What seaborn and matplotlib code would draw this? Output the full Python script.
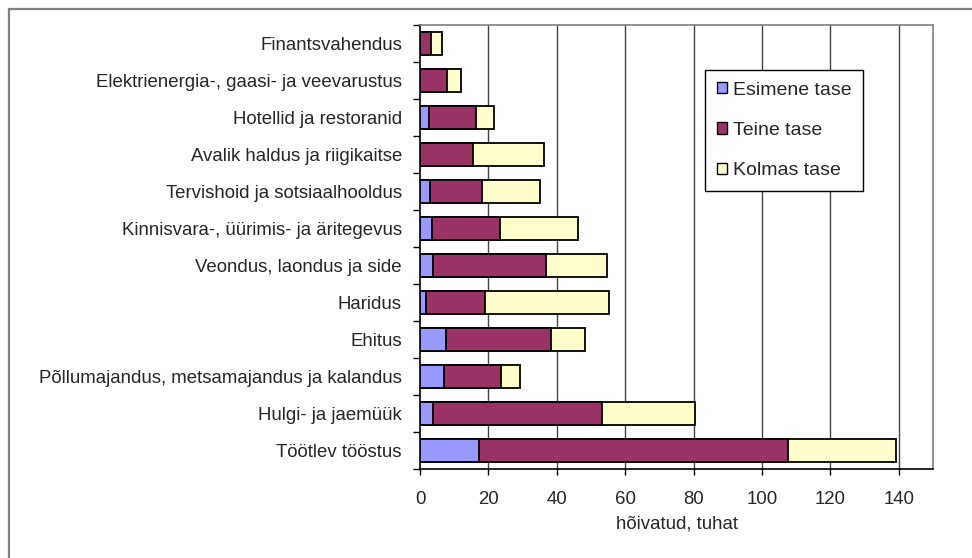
import matplotlib
matplotlib.use("Agg")
import matplotlib.pyplot as plt
from matplotlib.lines import Line2D
from matplotlib.patches import Patch
import numpy as np
import pandas as pd
import seaborn as sns

# ── data (thousands employed, by skill level) ────────────────────────────────
sectors = [
    "Finantsvahendus",
    "Elektrienergia-, gaasi- ja veevarustus",
    "Hotellid ja restoranid",
    "Avalik haldus ja riigikaitse",
    "Tervishoid ja sotsiaalhooldus",
    "Kinnisvara-, üürimis- ja äritegevus",
    "Veondus, laondus ja side",
    "Haridus",
    "Ehitus",
    "Põllumajandus, metsamajandus ja kalandus",
    "Hulgi- ja jaemüük",
    "Töötlev tööstus",
]
esimene = [0.0, 0.0, 2.6, 0.0, 2.9, 3.5, 3.8, 1.7, 7.5, 7.1, 3.9, 17.3]
teine = [3.1, 7.8, 13.7, 15.5, 15.2, 20.0, 33.0, 17.3, 30.7, 16.5, 49.4, 90.3]
kolmas = [3.4, 4.1, 5.4, 20.8, 17.0, 22.7, 17.8, 36.2, 10.1, 5.7, 27.2, 31.7]
series = ["Esimene tase", "Teine tase", "Kolmas tase"]
colors = ["#9999FF", "#993366", "#FFFFCC"]
x_ticks = [0, 20, 40, 60, 80, 100, 120, 140]

df = pd.DataFrame({"sector": sectors, "Esimene tase": esimene,
                   "Teine tase": teine, "Kolmas tase": kolmas})
cum = df[series].cumsum(axis=1)

sns.set_theme(style="white")
plt.rcParams["font.family"] = ["Liberation Sans", "DejaVu Sans"]
FS = 13.4
LEG_FS = 14

fig = plt.figure(figsize=(9.72, 5.58), dpi=100)
ax = fig.add_axes([420 / 972, 1 - 469 / 558, 513 / 972, 444 / 558])

# stacked bars: draw totals first, then overlay shorter cumulative layers
for name, color in reversed(list(zip(series, colors))):
    sns.barplot(x=cum[name], y=df["sector"], orient="h", color=color,
                width=0.63, edgecolor="black", linewidth=1.3, ax=ax,
                saturation=1, zorder=3)

ax.set_xlim(0, 150)
ax.set_xticks(x_ticks)
ax.set_xticklabels([str(t) for t in x_ticks], fontsize=FS)
ax.set_ylim(len(sectors) - 0.5, -0.5)
ax.set_yticks(np.arange(len(sectors)))
ax.set_yticklabels(sectors, fontsize=FS)
ax.set_yticks(np.arange(len(sectors) + 1) - 0.5, minor=True)
ax.tick_params(axis="y", which="major", length=0, pad=13)
ax.tick_params(axis="y", which="minor", length=5, width=1, color="black",
               direction="out", left=True)
ax.tick_params(axis="x", length=4.5, width=1, color="black", direction="out",
               bottom=True, pad=11.5)
ax.set_xlabel("hõivatud, tuhat", fontsize=FS, labelpad=5)
ax.set_ylabel("")

for t in x_ticks[1:]:
    ax.axvline(t, color="#444444", lw=1, zorder=1)

for side in ("left", "bottom"):
    ax.spines[side].set_color("black")
    ax.spines[side].set_linewidth(1.2)
for side in ("top", "right"):
    ax.spines[side].set_color("#808080")
    ax.spines[side].set_linewidth(1.2)

handles = [Patch(facecolor=c, edgecolor="black", linewidth=1) for c in colors]
leg = ax.legend(handles, series, loc="upper left", fontsize=LEG_FS,
                bbox_to_anchor=(705 / 972, 1 - 70 / 558),
                bbox_transform=fig.transFigure, borderaxespad=0,
                handlelength=0.52, handleheight=0.52, handletextpad=0.3,
                labelspacing=1.2, borderpad=0.6, fancybox=False,
                framealpha=1, edgecolor="black")
leg.get_frame().set_linewidth(1)

# outer chart border (cut off at right and bottom edges)
fig.add_artist(Line2D([9 / 972, 1.0], [1 - 9 / 558] * 2,
                      transform=fig.transFigure, color="#808080", lw=1.6))
fig.add_artist(Line2D([9 / 972] * 2, [0, 1 - 9 / 558],
                      transform=fig.transFigure, color="#808080", lw=1.6))

fig.savefig("out.png", dpi=100, facecolor="white")
